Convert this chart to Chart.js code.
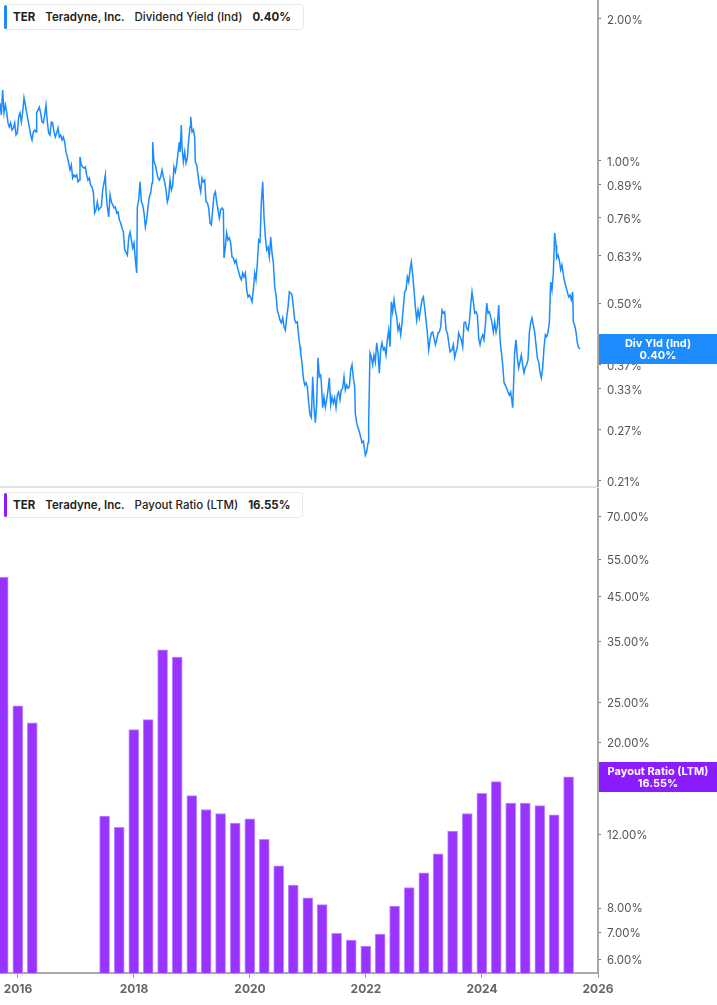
<!DOCTYPE html>
<html>
<head>
<meta charset="utf-8">
<script src="https://cdn.jsdelivr.net/npm/chart.js@4.4.1/dist/chart.umd.min.js"></script>
<style>
    body { margin: 0; background: #fff; font-family: Inter, sans-serif; }
    #page { position: relative; width: 717px; height: 1005px; overflow: hidden; }
    .pane { position: absolute; left: 0; width: 717px; }
    #yield-pane { top: 0; height: 492px; }
    #payout-pane { top: 488px; height: 517px; }
    .divider { position: absolute; left: 0; top: 486px; width: 599px; height: 2px; background: #e3e3e3; }
    .legend {
        position: absolute; left: 4px; height: 24px; padding: 0 12px 0 8px;
        border: 1px solid #e8e8e8; border-radius: 4px; background: #fff;
        font-size: 11.5px; line-height: 24px; color: #222; white-space: nowrap; z-index: 2;
    }
    .legend .swatch { position: absolute; left: -1px; top: 0; width: 3px; height: 24px; border-radius: 2px; }
    .legend span { margin-right: 10px; }
    .legend .tk { font-weight: 700; }
    .legend .co { font-weight: 600; }
    .legend .me { font-weight: 500; }
    .legend .va { font-weight: 700; margin-right: 0; }
</style>
</head>
<body>
<div id="page">
    <div class="divider"></div>
    <div class="pane" id="yield-pane"><canvas id="yield-chart"></canvas></div>
    <div class="pane" id="payout-pane"><canvas id="payout-chart"></canvas></div>
    <div class="legend" id="yield-legend" style="top:4px"></div>
    <div class="legend" id="payout-legend" style="top:492px"></div>
</div>
<script>
const ticker = 'TER';
const company = 'Teradyne, Inc.';

// x range shared by both panes (decimal years)
const xMin = 2015.69;
const xMax = 2026;
const yearTicks = [2016, 2018, 2020, 2022, 2024, 2026];

// Dividend yield (Ind), %
const yieldDates = [
    2015.690, 2015.713, 2015.736, 2015.759, 2015.782, 2015.805, 2015.828, 2015.851, 2015.874, 2015.897,
    2015.920, 2015.943, 2015.966, 2015.989, 2016.012, 2016.035, 2016.058, 2016.081, 2016.104, 2016.127,
    2016.150, 2016.173, 2016.196, 2016.219, 2016.242, 2016.265, 2016.288, 2016.311,
    2016.322, 2016.345, 2016.368, 2016.391, 2016.414, 2016.437, 2016.460, 2016.483, 2016.506, 2016.529,
    2016.552, 2016.575, 2016.598, 2016.621, 2016.644, 2016.667, 2016.690, 2016.713, 2016.736, 2016.759,
    2016.782, 2016.805, 2016.828, 2016.851, 2016.874, 2016.897, 2016.920, 2016.943, 2016.966, 2016.989,
    2017.012, 2017.035, 2017.058,
    2017.069, 2017.092, 2017.115, 2017.138, 2017.161, 2017.184, 2017.207, 2017.230, 2017.253, 2017.276,
    2017.299, 2017.322, 2017.345, 2017.368, 2017.391, 2017.414, 2017.437, 2017.460, 2017.483, 2017.506,
    2017.518, 2017.541, 2017.564, 2017.587, 2017.610, 2017.633, 2017.656, 2017.679, 2017.702, 2017.725,
    2017.748, 2017.771, 2017.794, 2017.817, 2017.840, 2017.863, 2017.886, 2017.909, 2017.932, 2017.955,
    2017.978, 2018.001, 2018.024, 2018.047,
    2018.058, 2018.081, 2018.104, 2018.127, 2018.150, 2018.173, 2018.196, 2018.219, 2018.242, 2018.265,

    2018.288, 2018.311, 2018.322, 2018.345, 2018.368, 2018.391, 2018.414, 2018.437, 2018.460, 2018.483,
    2018.506, 2018.529, 2018.552, 2018.575, 2018.598, 2018.621, 2018.644, 2018.667, 2018.690, 2018.713,
    2018.736, 2018.759, 2018.782, 2018.794, 2018.817, 2018.828, 2018.851, 2018.874, 2018.897, 2018.920,
    2018.943, 2018.966, 2018.978, 2019.001, 2019.024, 2019.047, 2019.058, 2019.081, 2019.104, 2019.127,
    2019.150, 2019.173, 2019.196, 2019.219, 2019.242, 2019.265, 2019.288, 2019.311, 2019.334, 2019.357,
    2019.380, 2019.403, 2019.426, 2019.449, 2019.472, 2019.495, 2019.518, 2019.541, 2019.552, 2019.575,
    2019.598, 2019.621, 2019.644, 2019.667, 2019.690, 2019.713, 2019.736, 2019.759, 2019.782, 2019.805,
    2019.828, 2019.851, 2019.874, 2019.897, 2019.920, 2019.943, 2019.966, 2019.989, 2020.012, 2020.035,
    2020.058, 2020.081, 2020.104, 2020.127, 2020.150, 2020.173, 2020.196, 2020.219, 2020.242, 2020.265,
    2020.288, 2020.311, 2020.334, 2020.357, 2020.380, 2020.403, 2020.426, 2020.449, 2020.472, 2020.495,
    2020.518, 2020.541, 2020.564, 2020.587, 2020.610, 2020.633, 2020.656, 2020.679, 2020.702, 2020.725,
    2020.748, 2020.771, 2020.794, 2020.817, 2020.840, 2020.863,

    2020.874, 2020.897, 2020.920, 2020.943, 2020.966, 2020.989, 2021.012, 2021.035, 2021.058, 2021.081,
    2021.104, 2021.127, 2021.150, 2021.173, 2021.196, 2021.219, 2021.230, 2021.253, 2021.276, 2021.299,
    2021.322, 2021.345, 2021.368, 2021.391, 2021.414, 2021.437, 2021.460, 2021.483, 2021.506, 2021.529,
    2021.552, 2021.575, 2021.598, 2021.621, 2021.644, 2021.667, 2021.690, 2021.713, 2021.736, 2021.759,
    2021.782, 2021.805, 2021.816, 2021.839, 2021.862, 2021.885, 2021.908, 2021.931, 2021.954, 2021.977,
    2021.989, 2022.012, 2022.035, 2022.046, 2022.069, 2022.092, 2022.115, 2022.138, 2022.161, 2022.184,
    2022.207, 2022.230, 2022.253, 2022.276, 2022.299, 2022.322, 2022.345, 2022.368, 2022.391, 2022.414,
    2022.437, 2022.460, 2022.483, 2022.506, 2022.529, 2022.552, 2022.575, 2022.598, 2022.621, 2022.644,
    2022.667, 2022.690, 2022.713, 2022.736, 2022.759, 2022.782, 2022.805, 2022.828, 2022.851, 2022.874,
    2022.897, 2022.920, 2022.943, 2022.966, 2022.989, 2023.012, 2023.035, 2023.058, 2023.081, 2023.104,
    2023.127, 2023.150, 2023.173, 2023.196, 2023.219, 2023.242, 2023.265, 2023.288, 2023.311, 2023.334,
    2023.357, 2023.380, 2023.403, 2023.426, 2023.449,

    2023.483, 2023.506, 2023.529, 2023.552, 2023.575, 2023.598, 2023.621, 2023.644, 2023.667, 2023.690,
    2023.713, 2023.736, 2023.759, 2023.782, 2023.805, 2023.828, 2023.851, 2023.874, 2023.897, 2023.920,
    2023.943, 2023.966, 2023.989, 2024.012, 2024.035, 2024.058, 2024.081, 2024.104, 2024.127, 2024.150,
    2024.173, 2024.196, 2024.219, 2024.242, 2024.265, 2024.288, 2024.311, 2024.334, 2024.357, 2024.380,
    2024.403, 2024.425, 2024.448, 2024.471, 2024.494, 2024.517, 2024.529, 2024.540, 2024.563, 2024.586,
    2024.609, 2024.632, 2024.655, 2024.678, 2024.701, 2024.724, 2024.747, 2024.770, 2024.793, 2024.816,
    2024.839, 2024.862, 2024.885, 2024.908, 2024.931, 2024.954, 2024.977, 2025.000, 2025.023, 2025.046,
    2025.069, 2025.092, 2025.115, 2025.138, 2025.161, 2025.184, 2025.207, 2025.230, 2025.253, 2025.276,
    2025.287, 2025.310, 2025.333, 2025.356, 2025.379, 2025.402, 2025.425, 2025.448, 2025.471, 2025.494,
    2025.517, 2025.540, 2025.563, 2025.575, 2025.598, 2025.621, 2025.644, 2025.667, 2025.690,
];

const yieldValues = [
    1.327, 1.252, 1.413, 1.264, 1.314, 1.270, 1.204, 1.180, 1.204, 1.163,
    1.175, 1.204, 1.135, 1.146, 1.240, 1.264, 1.209, 1.270, 1.360, 1.314,
    1.264, 1.221, 1.180, 1.135, 1.108, 1.152, 1.163, 1.152,
    1.264, 1.282, 1.301, 1.264, 1.209, 1.204, 1.252, 1.314, 1.209, 1.146,
    1.135, 1.209, 1.204, 1.152, 1.124, 1.146, 1.175, 1.124, 1.135, 1.108,
    1.124, 1.097, 1.045, 1.020, 0.990, 0.957, 0.981, 0.920, 0.934, 0.925,
    0.934, 0.903, 0.911,
    1.020, 0.981, 0.971, 0.966, 0.971, 0.934, 0.911, 0.920, 0.889, 0.881,
    0.860, 0.776, 0.788, 0.819, 0.788, 0.795, 0.799, 0.868, 0.898, 0.934,
    0.856, 0.799, 0.761, 0.847, 0.819, 0.807, 0.795, 0.799, 0.776, 0.780,
    0.750, 0.739, 0.721, 0.707, 0.648, 0.641, 0.632, 0.687, 0.707, 0.680,
    0.654, 0.670, 0.617, 0.579,
    0.799, 0.827, 0.903, 0.819, 0.807, 0.776, 0.725, 0.750, 0.799, 0.839,

    0.856, 0.898, 1.097, 0.995, 0.981, 0.948, 0.920, 0.911, 0.925, 0.957,
    0.925, 0.903, 0.868, 0.819, 0.839, 0.911, 0.868, 0.889, 0.971, 0.948,
    0.981, 1.040, 1.097, 1.045, 1.192, 1.071, 0.995, 1.045, 0.990, 1.015,
    1.108, 1.180, 1.240, 1.152, 1.163, 1.124, 0.995, 0.981, 0.934, 0.889,
    0.860, 0.920, 0.903, 0.911, 0.819, 0.815, 0.795, 0.739, 0.732, 0.788,
    0.847, 0.860, 0.819, 0.788, 0.757, 0.788, 0.795, 0.788, 0.623, 0.657,
    0.704, 0.680, 0.687, 0.670, 0.626, 0.623, 0.608, 0.617, 0.596, 0.582,
    0.568, 0.560, 0.579, 0.568, 0.579, 0.533, 0.515, 0.520, 0.513, 0.503,
    0.533, 0.579, 0.560, 0.608, 0.680, 0.674, 0.815, 0.903, 0.761, 0.690,
    0.648, 0.657, 0.626, 0.690, 0.638, 0.608, 0.541, 0.520, 0.483, 0.472,
    0.460, 0.454, 0.465, 0.445, 0.438, 0.467, 0.490, 0.528, 0.525, 0.520,
    0.490, 0.460, 0.454, 0.456, 0.424, 0.404,

    0.392, 0.373, 0.347, 0.335, 0.339, 0.332, 0.307, 0.290, 0.286, 0.349,
    0.301, 0.279, 0.307, 0.383, 0.349, 0.352, 0.339, 0.300, 0.316, 0.301,
    0.312, 0.327, 0.347, 0.304, 0.316, 0.307, 0.315, 0.300, 0.319, 0.324,
    0.312, 0.327, 0.330, 0.349, 0.327, 0.335, 0.330, 0.332, 0.361, 0.370,
    0.347, 0.332, 0.292, 0.279, 0.272, 0.267, 0.260, 0.253, 0.255, 0.244,
    0.238, 0.242, 0.253, 0.279, 0.392, 0.384, 0.370, 0.388, 0.375, 0.412,
    0.392, 0.355, 0.398, 0.412, 0.398, 0.402, 0.388, 0.418, 0.438, 0.404,
    0.503, 0.479, 0.508, 0.483, 0.467, 0.438, 0.449, 0.428, 0.454, 0.490,
    0.528, 0.533, 0.568, 0.554, 0.588, 0.611, 0.574, 0.533, 0.490, 0.460,
    0.483, 0.465, 0.488, 0.508, 0.515, 0.488, 0.460, 0.432, 0.398, 0.418,
    0.432, 0.434, 0.422, 0.408, 0.418, 0.432, 0.434, 0.445, 0.483, 0.476,
    0.479, 0.438, 0.432, 0.412, 0.394,

    0.398, 0.408, 0.383, 0.394, 0.404, 0.432, 0.424, 0.418, 0.404, 0.454,
    0.456, 0.443, 0.438, 0.456, 0.495, 0.528, 0.503, 0.476, 0.479, 0.472,
    0.421, 0.408, 0.421, 0.428, 0.418, 0.449, 0.500, 0.476, 0.479, 0.467,
    0.454, 0.434, 0.456, 0.434, 0.449, 0.495, 0.418, 0.394, 0.370, 0.339,
    0.335, 0.330, 0.324, 0.319, 0.324, 0.309, 0.300, 0.324, 0.394, 0.418,
    0.383, 0.364, 0.375, 0.388, 0.370, 0.356, 0.366, 0.370, 0.379, 0.432,
    0.454, 0.465, 0.449, 0.434, 0.408, 0.383, 0.375, 0.357, 0.347, 0.364,
    0.402, 0.428, 0.424, 0.434, 0.454, 0.554, 0.533, 0.579, 0.704, 0.664,
    0.623, 0.632, 0.617, 0.588, 0.602, 0.574, 0.554, 0.541, 0.528, 0.515,
    0.520, 0.508, 0.528, 0.456, 0.449, 0.434, 0.412, 0.402, 0.400,
];

const yieldMin = 0.2048;
const yieldMax = 2.193;
const yieldTicks = [2.0, 1.0, 0.89, 0.76, 0.63, 0.50, 0.37, 0.33, 0.27, 0.21];

// Payout ratio (LTM), %, by quarter end; null = not reported
const payoutQuarters = [
    '2015-09-30', '2015-12-31', '2016-03-31', '2016-06-30', '2016-09-30', '2016-12-31',
    '2017-03-31', '2017-06-30', '2017-09-30', '2017-12-31', '2018-03-31', '2018-06-30',
    '2018-09-30', '2018-12-31', '2019-03-31', '2019-06-30', '2019-09-30', '2019-12-31',
    '2020-03-31', '2020-06-30', '2020-09-30', '2020-12-31', '2021-03-31', '2021-06-30',
    '2021-09-30', '2021-12-31', '2022-03-31', '2022-06-30', '2022-09-30', '2022-12-31',
    '2023-03-31', '2023-06-30', '2023-09-30', '2023-12-31', '2024-03-31', '2024-06-30',
    '2024-09-30', '2024-12-31', '2025-03-31', '2025-06-30',
];

const payoutValues = [
    50.0, 24.5, 22.3, null, null, null,
    null, 13.3, 12.5, 21.5, 22.7, 33.4,
    32.1, 14.9, 13.8, 13.5, 12.8, 13.1,
    11.7, 10.1, 9.08, 8.46, 8.15, 6.95,
    6.70, 6.48, 6.92, 8.09, 8.96, 9.72,
    10.8, 12.25, 13.5, 15.1, 16.1, 14.3,
    14.3, 14.1, 13.4, 16.55,
];

const payoutMin = 5.582;
const payoutMax = 81.86;
const payoutTicks = [70, 55, 45, 35, 25, 20, 12, 8, 7, 6];


const toYear = s => {
    const d = new Date(s + 'T00:00:00Z');
    const y = d.getUTCFullYear();
    const start = Date.UTC(y, 0, 1);
    const end = Date.UTC(y + 1, 0, 1);
    return y + (d - start) / (end - start);
};

const pct = v => v.toFixed(2) + '%';

const lastOf = list => {
    for (let i = list.length - 1; i >= 0; i--) {
        if (list[i] !== null) return list[i];
    }
    return null;
};

// right-hand badge showing the latest value, pinned to the value axis
const lastValueTag = {
    id: 'lastValueTag',
    afterDraw: (chart, args, opts) => {
        const {ctx, chartArea, scales} = chart;
        const y = scales.y.getPixelForValue(opts.value);
        const left = chartArea.right + 1;
        const w = chart.width - left;
        ctx.save();
        ctx.fillStyle = opts.color;
        ctx.fillRect(left, Math.round(y - 15), w, 30);
        ctx.fillStyle = '#fff';
        ctx.font = '700 11px Inter';
        ctx.textAlign = 'center';
        ctx.textBaseline = 'middle';
        ctx.fillText(opts.title, left + w / 2, y - 5);
        ctx.fillText(pct(opts.value), left + w / 2, y + 7);
        ctx.restore();
    },
};

const valueAxis = (min, max, ticks, nudge) => ({
    type: 'logarithmic',
    position: 'right',
    min: min,
    max: max,
    afterBuildTicks: scale => { scale.ticks = ticks.map(v => ({value: v})); },
    afterFit: scale => {
        scale.width = 119;
        scale.paddingTop = 0;
        scale.paddingBottom = 0;
    },
    border: {display: true, color: '#a8a8a8', width: 2},
    grid: {drawOnChartArea: false, drawTicks: true, tickLength: 3, color: '#777'},
    ticks: {
        autoSkip: false,
        padding: 6,
        labelOffset: nudge,
        color: '#555',
        font: {size: 11.5, family: 'Inter'},
        callback: v => pct(v),
    },
});

Chart.defaults.font.family = 'Inter';
Chart.defaults.animation = false;


const render = {
    all: () => {
        render.legends();
        render.yield();
        render.payout();
    },

    legends: () => {
        const fill = (id, color, metric, value) => {
            const el = document.getElementById(id);
            el.innerHTML =
                '<i class="swatch" style="background:' + color + '"></i>' +
                '<span class="tk">' + ticker + '</span>' +
                '<span class="co">' + company + '</span>' +
                '<span class="me">' + metric + '</span>' +
                '<span class="va">' + pct(value) + '</span>';
        };
        fill('yield-legend', '#1a8cff', 'Dividend Yield (Ind)', lastOf(yieldValues));
        fill('payout-legend', '#8a1cff', 'Payout Ratio (LTM)', lastOf(payoutValues));
    },

    yield: () => {
        const n = Math.min(yieldDates.length, yieldValues.length);
        const points = [];
        for (let i = 0; i < n; i++) {
            points.push({x: yieldDates[i], y: yieldValues[i]});
        }

        new Chart(document.getElementById('yield-chart'), {
            type: 'line',
            data: {
                datasets: [{
                    data: points,
                    borderColor: '#1a8cff',
                    borderWidth: 1.5,
                    pointRadius: 0,
                    tension: 0,
                    fill: false,
                }],
            },
            options: {
                responsive: true,
                maintainAspectRatio: false,
                layout: {padding: {left: 0, right: 0, top: 0, bottom: 6}},
                plugins: {
                    legend: {display: false},
                    tooltip: {enabled: false},
                    lastValueTag: {value: lastOf(yieldValues), title: 'Div Yld (Ind)', color: '#1e8cff'},
                },
                scales: {
                    x: {type: 'linear', min: xMin, max: xMax, display: false},
                    y: valueAxis(yieldMin, yieldMax, yieldTicks, 2),
                },
            },
            plugins: [lastValueTag],
        });
    },

    payout: () => {
        const bars = payoutQuarters.map((q, i) => ({x: toYear(q), y: payoutValues[i]}));

        new Chart(document.getElementById('payout-chart'), {
            type: 'bar',
            data: {
                datasets: [{
                    data: bars,
                    backgroundColor: '#9933ff',
                    borderColor: '#c08cff',
                    borderWidth: 1,
                    borderSkipped: 'bottom',
                    barThickness: 10,
                }],
            },
            options: {
                responsive: true,
                maintainAspectRatio: false,
                layout: {padding: 0},
                plugins: {
                    legend: {display: false},
                    tooltip: {enabled: false},
                    lastValueTag: {value: lastOf(payoutValues), title: 'Payout Ratio (LTM)', color: '#8a1cff'},
                },
                scales: {
                    x: {
                        type: 'linear',
                        min: xMin,
                        max: xMax,
                        offset: false,
                        afterBuildTicks: scale => { scale.ticks = yearTicks.map(v => ({value: v})); },
                        afterFit: scale => {
                            scale.height = 32;
                            scale.paddingLeft = 0;
                            scale.paddingRight = 0;
                        },
                        border: {display: true, color: '#a8a8a8', width: 2},
                        grid: {drawOnChartArea: false, drawTicks: true, tickLength: 5, color: '#999', offset: false},
                        ticks: {
                            autoSkip: false,
                            maxRotation: 0,
                            padding: 4,
                            color: '#666',
                            font: {size: 12, weight: '700', family: 'Inter'},
                            callback: v => String(v),
                        },
                    },
                    y: valueAxis(payoutMin, payoutMax, payoutTicks, 1),
                },
            },
            plugins: [lastValueTag],
        });
    },
};

render.all();
</script>
</body>
</html>
